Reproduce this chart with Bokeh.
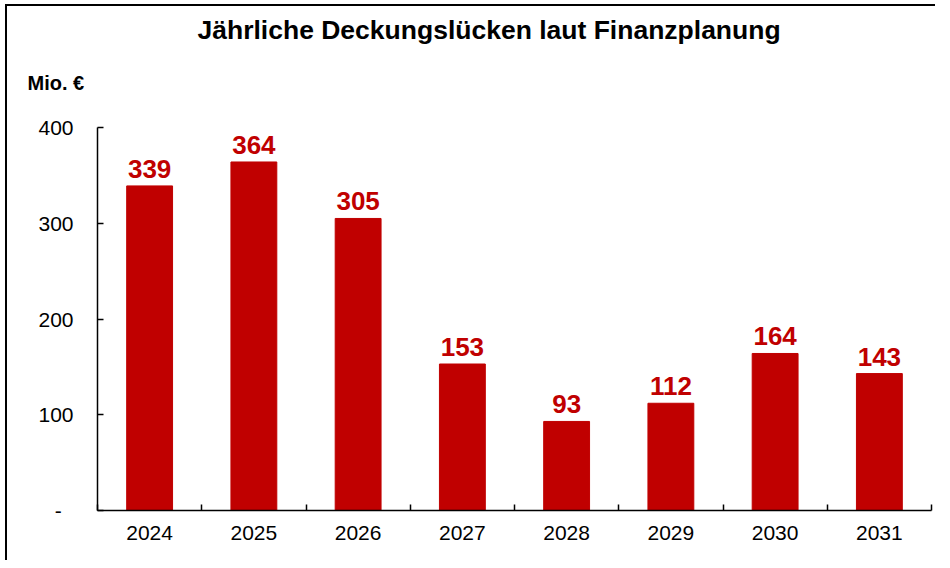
from bokeh.plotting import figure
from bokeh.models import Range1d, FixedTicker, Title, ColumnDataSource
from bokeh.core.properties import value
from bokeh.embed import file_html
from bokeh.resources import INLINE

years = ["2024", "2025", "2026", "2027", "2028", "2029", "2030", "2031"]
gaps = [339, 364, 305, 153, 93, 112, 164, 143]
y_ticks = [0, 100, 200, 300, 400]
title_text = "Jährliche Deckungslücken laut Finanzplanung"
unit_text = "Mio. €"

RED = "#C00000"
FONT = "Liberation Sans"

xs = [i + 0.5 for i in range(len(years))]
src = ColumnDataSource(dict(x=xs, top=gaps, label=[str(v) for v in gaps]))

# page geometry: outer frame line at x=5, y=4 (2px), canvas starts after it
OX, OY = 7, 6
W, H = 930, 556
FL, FT, FR, FB = 97 - OX, 127 - OY, 931 - OX, 510 - OY

p = figure(width=W, height=H, output_backend="svg", toolbar_location=None,
           title=None,
           x_range=Range1d(0, len(years)), y_range=Range1d(0, 400),
           min_border_left=FL, min_border_top=FT, min_border_right=W - FR,
           min_border_bottom=H - FB)
p.styles = {"border-left": "2px solid #000", "border-top": "2px solid #000",
            "margin-left": "5px", "margin-top": "4px"}
p.outline_line_color = None
p.xgrid.visible = False
p.ygrid.visible = False
p.background_fill_color = "white"
p.border_fill_color = "white"

p.vbar(x="x", top="top", bottom=0, width=0.44, color=RED, source=src)
p.text(x="x", y="top", text="label", source=src, y_offset=-17,
       text_align="center", text_baseline="alphabetic",
       text_font=value(FONT), text_font_style="bold", text_font_size="26px",
       text_color=RED)

# x axis
xa = p.xaxis[0]
xa.ticker = FixedTicker(ticks=xs, minor_ticks=list(range(len(years) + 1)))
xa.major_label_overrides = {x: y for x, y in zip(xs, years)}
xa.major_tick_in = 0
xa.major_tick_out = 0
xa.minor_tick_in = 6
xa.minor_tick_out = 0
xa.minor_tick_line_color = "black"
xa.minor_tick_line_width = 1.5
xa.axis_line_color = "black"
xa.axis_line_width = 1.5
xa.major_label_text_font = FONT
xa.major_label_text_font_size = "21px"
xa.major_label_text_color = "black"
xa.major_label_standoff = 15

# y axis
ya = p.yaxis[0]
ya.ticker = FixedTicker(ticks=y_ticks)
ya.major_label_overrides = {0: "-\u00a0\u00a0"}
ya.major_tick_in = 6
ya.major_tick_out = 0
ya.major_tick_line_color = "black"
ya.major_tick_line_width = 1.5
ya.minor_tick_line_color = None
ya.axis_line_color = "black"
ya.axis_line_width = 1.5
ya.major_label_text_font = FONT
ya.major_label_text_font_size = "21px"
ya.major_label_text_color = "black"
ya.major_label_standoff = 24

# unit label (closest to the frame), then main title (outermost)
p.add_layout(Title(text=unit_text, align="left", offset=27 - 97, standoff=68,
                   text_font=FONT, text_font_style="bold", text_font_size="20px",
                   text_color="black"), "above")
p.add_layout(Title(text=title_text, align="left", offset=197 - 97, standoff=-19,
                   text_font=FONT, text_font_style="bold", text_font_size="26.5px",
                   text_color="black"), "above")

open("out.html", "w").write(file_html(p, INLINE))
